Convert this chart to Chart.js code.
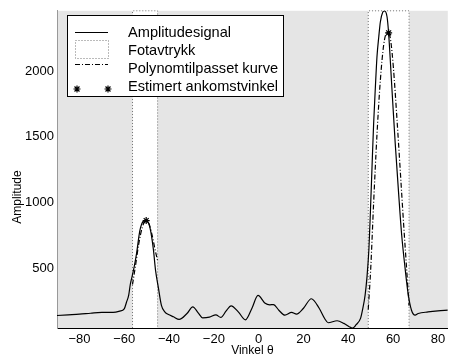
<!DOCTYPE html>
<html>
<head>
<meta charset="utf-8">
<script src="https://cdn.jsdelivr.net/npm/chart.js@4.4.1/dist/chart.umd.min.js"></script>
<style>
  html, body { margin: 0; padding: 0; background: #fff; overflow: hidden; }
</style>
</head>
<body>
<canvas id="beamChart" width="453" height="358"></canvas>
<script>
// amplitude signal
const ampAngles = [-90, -85, -80, -75, -70, -65, -62, -60, -59, -58, -57.3, -56.5, -55.5, -54.5, -53, -51.5, -50.2, -48.5, -47, -46, -44.8, -43.4, -41.9, -40, -38, -35.5,
  -32, -29.4, -27, -25, -22, -19.1, -16.9, -14.5, -12.3, -9, -5.9, -3, -0.3, 2.9, 5, 6.6, 9, 11.7, 14.7, 16.9, 20, 23.5, 27, 29.5, 31, 35, 38, 40.4, 41.9,
  43.5, 45.5, 46.5, 47.5, 48.3, 49.2, 49.9, 50.6, 51.3, 52.1, 52.8, 53.6, 54.3, 55.4, 56.2, 57.3, 58, 59.4, 60.9, 62.4, 63.8, 65.3, 66.7, 68.2, 69.8, 71.2, 75.6, 80, 84.4];
const ampValues = [145, 150, 155, 162, 168, 168, 178, 195, 245, 300, 380, 440, 520, 615, 790, 860, 867, 810, 648, 485, 360, 222, 172, 150, 135, 115,
  160, 210, 165, 127, 132, 150, 130, 180, 218, 170, 112, 200, 297, 237, 226, 228, 185, 147, 168, 155, 200, 272, 200, 120, 90, 105, 85, 60, 50,
  75, 125, 200, 300, 430, 650, 950, 1280, 1600, 1885, 2110, 2260, 2372, 2447, 2457, 2410, 2285, 1885, 1460, 1085, 760, 510, 310, 185, 148, 160, 172, 180, 185];

// polynomial fits inside each footprint
const polyLeftAngles = [-56.3, -55, -53.5, -52, -50.5, -49, -47.5, -46.3, -45.1];
const polyLeftValues = [380, 520, 690, 810, 865, 845, 750, 650, 560];
const polyRightAngles = [48.9, 50, 51.3, 52.8, 54.3, 55.8, 57, 58, 59, 60.1, 61.7, 63.2, 64.6, 66.1, 67.1];
const polyRightValues = [190, 500, 1000, 1520, 1930, 2200, 2285, 2290, 2220, 2030, 1640, 1240, 860, 480, 220];

// estimated arrival angles
const estAngles = [-50.2, 58];
const estValues = [865, 2290];

// footprint limits
const footLeft = [-56.3, -45.1];
const footRight = [48.9, 67.1];

const xMin = -90, xMax = 84.4;
const yMin = 50, yMax = 2457;
const xTicks = [-80, -60, -40, -20, 0, 20, 40, 60, 80];
const yTicks = [500, 1000, 1500, 2000];

const legendLabels = ['Amplitudesignal', 'Fotavtrykk', 'Polynomtilpasset kurve', 'Estimert ankomstvinkel'];
const yTitle = 'Amplitude';

const font = '"Liberation Sans", Arial, sans-serif';

function pts(xs, ys) {
    return xs.map((x, i) => ({x: x, y: ys[i]}));
}

function footprint(lims) {
    return pts([lims[0], lims[0], lims[1], lims[1]], [yMin, yMax, yMax, yMin]);
}

const areaBackground = {
    id: 'areaBackground',
    beforeDraw(chart) {
        const a = chart.chartArea;
        const ctx = chart.ctx;
        ctx.save();
        ctx.fillStyle = '#e5e5e5';
        ctx.fillRect(a.left, a.top, a.right - a.left, a.bottom - a.top);
        ctx.restore();
    },
    afterDraw(chart) {
        // y label sits left of the tick labels, a bit below the axis middle
        const ctx = chart.ctx;
        ctx.save();
        ctx.translate(18, 197);
        ctx.rotate(-Math.PI / 2);
        ctx.fillStyle = '#000';
        ctx.font = '12px ' + font;
        ctx.textAlign = 'center';
        ctx.textBaseline = 'middle';
        ctx.fillText(yTitle, 0, 0);
        ctx.restore();
    }
};

const boxLegend = {
    id: 'boxLegend',
    afterDatasetsDraw(chart) {
        const ctx = chart.ctx;
        ctx.save();
        ctx.fillStyle = '#fff';
        ctx.fillRect(67, 15, 216, 82);
        ctx.strokeStyle = '#000';
        ctx.lineWidth = 1;
        ctx.strokeRect(67.5, 15.5, 216, 81);

        // symbols
        ctx.lineWidth = 1.2;
        ctx.beginPath();
        ctx.moveTo(75, 32.5); ctx.lineTo(108, 32.5);
        ctx.stroke();

        ctx.lineWidth = 1;
        ctx.strokeStyle = '#777';
        ctx.setLineDash([1, 2]);
        ctx.strokeRect(75.5, 40.5, 33, 18);

        ctx.strokeStyle = '#000';
        ctx.lineWidth = 1.2;
        ctx.setLineDash([5, 2, 1, 2]);
        ctx.beginPath();
        ctx.moveTo(75, 64.5); ctx.lineTo(108, 64.5);
        ctx.stroke();
        ctx.setLineDash([]);

        [77, 108].forEach(x => {
            Chart.helpers.drawPoint(ctx, {pointStyle: 'star', radius: 3.5, rotation: 0, borderWidth: 1}, x, 89);
        });

        ctx.fillStyle = '#000';
        ctx.font = '14.6px ' + font;
        ctx.textBaseline = 'middle';
        legendLabels.forEach((t, i) => ctx.fillText(t, 128, 33 + i * 18));
        ctx.restore();
    }
};

const ctx = document.getElementById('beamChart').getContext('2d');

const beamChart = new Chart(ctx, {
    type: 'scatter',
    data: {
        datasets: [
            {
                label: legendLabels[0],
                data: pts(ampAngles, ampValues),
                showLine: true,
                borderColor: '#000',
                borderWidth: 1.2,
                pointRadius: 0,
                cubicInterpolationMode: 'monotone',
                order: 2
            },
            {
                label: legendLabels[2],
                data: pts(polyLeftAngles, polyLeftValues),
                showLine: true,
                borderColor: '#000',
                borderWidth: 1.2,
                borderDash: [5, 2, 1, 2],
                pointRadius: 0,
                cubicInterpolationMode: 'monotone',
                order: 1
            },
            {
                label: legendLabels[2],
                data: pts(polyRightAngles, polyRightValues),
                showLine: true,
                borderColor: '#000',
                borderWidth: 1.2,
                borderDash: [5, 2, 1, 2],
                pointRadius: 0,
                cubicInterpolationMode: 'monotone',
                order: 1
            },
            {
                label: legendLabels[1],
                data: footprint(footLeft),
                showLine: true,
                borderColor: '#777',
                borderWidth: 1,
                borderDash: [1, 2],
                backgroundColor: '#fff',
                fill: 'start',
                pointRadius: 0,
                tension: 0,
                clip: false,
                order: 5
            },
            {
                label: legendLabels[1],
                data: footprint(footRight),
                showLine: true,
                borderColor: '#777',
                borderWidth: 1,
                borderDash: [1, 2],
                backgroundColor: '#fff',
                fill: 'start',
                pointRadius: 0,
                tension: 0,
                clip: false,
                order: 5
            },
            {
                label: legendLabels[3],
                data: pts(estAngles, estValues),
                showLine: false,
                pointStyle: 'star',
                pointRadius: 3.5,
                borderColor: '#000',
                borderWidth: 1.2,
                order: 0
            }
        ]
    },
    options: {
        responsive: false,
        animation: false,
        devicePixelRatio: 1,
        layout: { padding: { left: 0, right: 0, top: 7, bottom: 0 } },
        plugins: {
            legend: { display: false },
            tooltip: { enabled: false }
        },
        scales: {
            x: {
                type: 'linear',
                min: xMin,
                max: xMax,
                afterBuildTicks: s => { s.ticks = xTicks.map(v => ({value: v})); },
                afterFit: s => { s.height = 30; },
                grid: { display: false, drawTicks: false, tickLength: 0 },
                border: { display: true, color: '#000', width: 1 },
                ticks: {
                    padding: 4,
                    color: '#000',
                    font: { family: font, size: 13 },
                    callback: v => String(v).replace('-', '\u2212')
                },
                title: {
                    display: true,
                    text: 'Vinkel \u03b8',
                    color: '#000',
                    font: { family: font, size: 12 },
                    padding: { top: 0, bottom: 0 }
                }
            },
            y: {
                type: 'linear',
                min: yMin,
                max: yMax,
                afterBuildTicks: s => { s.ticks = yTicks.map(v => ({value: v})); },
                afterFit: s => { s.width = 57; },
                grid: { display: false, drawTicks: false, tickLength: 0 },
                border: { display: true, color: '#999', width: 1 },
                ticks: {
                    padding: 3,
                    color: '#000',
                    font: { family: font, size: 13 },
                    callback: v => String(v)
                }
            }
        }
    },
    plugins: [areaBackground, boxLegend]
});
</script>
</body>
</html>
